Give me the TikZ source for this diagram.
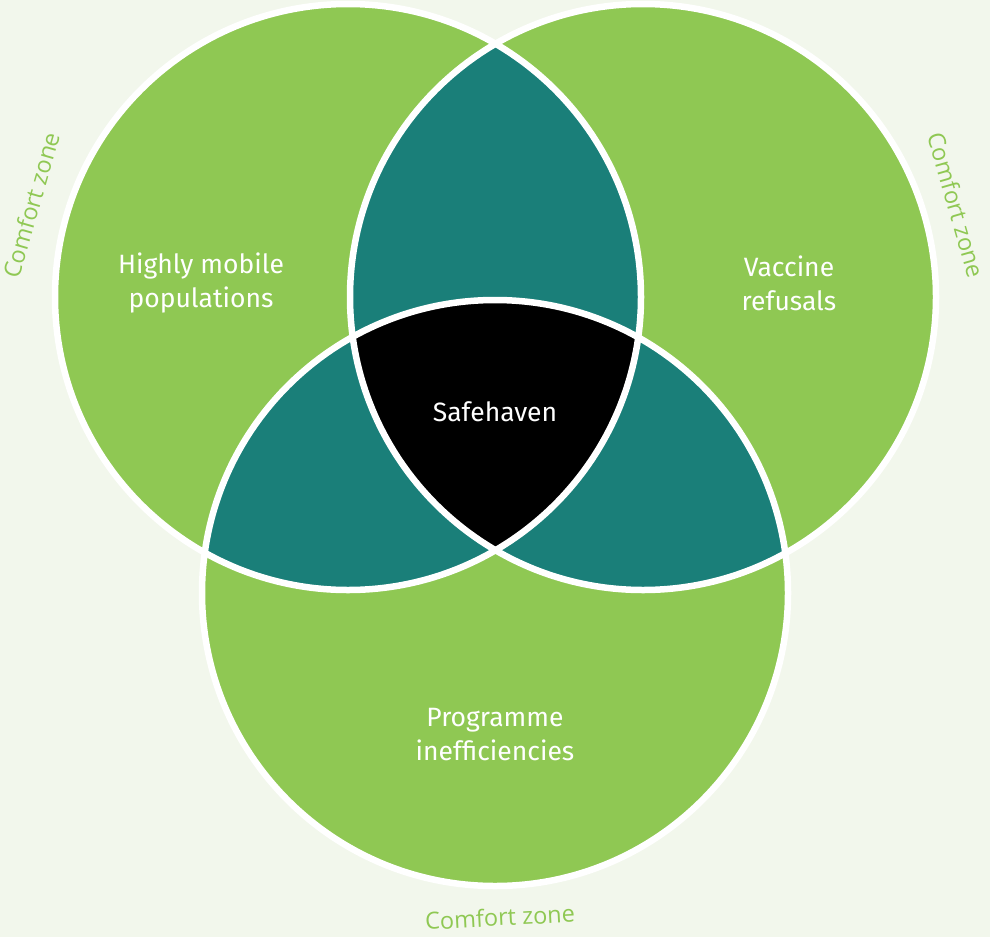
\documentclass[tikz,border=0pt]{standalone}
\usepackage{fontspec}
\setmainfont{Fira Sans}
\newfontfamily\zonefont{Open Sans}
\definecolor{leaf}{HTML}{8FC853}
\definecolor{sea}{HTML}{1A7F79}
\definecolor{paper}{HTML}{F2F7EC}
\begin{document}
\begin{tikzpicture}[x=1pt, y=-1pt,
  area/.style={text=white, align=center, font=\fontsize{26.5}{34}\selectfont},
  zone/.style={text=leaf, font=\zonefont\fontsize{23.5}{26}\selectfont},
  rim/.style={draw=white, line width=6.5pt}]

\useasboundingbox (0,0) rectangle (990,937);
\fill[paper] (0,0) rectangle (990,937);

\coordinate (mobile) at (348,297);
\coordinate (refusal) at (643,297);
\coordinate (programme) at (495,593);

\fill[leaf] (mobile) circle (293pt);
\fill[leaf] (refusal) circle (293pt);
\fill[leaf] (programme) circle (293pt);

% overlaps
\begin{scope}
\clip (refusal) circle (293pt);
\fill[sea] (programme) circle (293pt);
\end{scope}
\begin{scope}
\clip (mobile) circle (293pt);
\fill[sea] (refusal) circle (293pt);
\fill[sea] (programme) circle (293pt);
\clip (refusal) circle (293pt);
\fill[black] (programme) circle (293pt);
\end{scope}

\draw[rim] (mobile) circle (293pt);
\draw[rim] (refusal) circle (293pt);
\draw[rim] (programme) circle (293pt);

\node[area] (mobiletext) at (201,283) {Highly mobile\\populations};
\node[area] (refusaltext) at (789,283) {Vaccine\\refusals};
\node[area] (safe) at (495,412) {Safehaven};
\node[area] (programmetext) at (495,735) {Programme\\inefficiencies};

\node[zone, rotate=74] (zoneleft) at (31,205) {Comfort zone};
\node[zone, rotate=-74] (zoneright) at (956,205) {Comfort zone};
\node[zone, rotate=3] (zonebottom) at (500,917) {Comfort zone};

\end{tikzpicture}
\end{document}
